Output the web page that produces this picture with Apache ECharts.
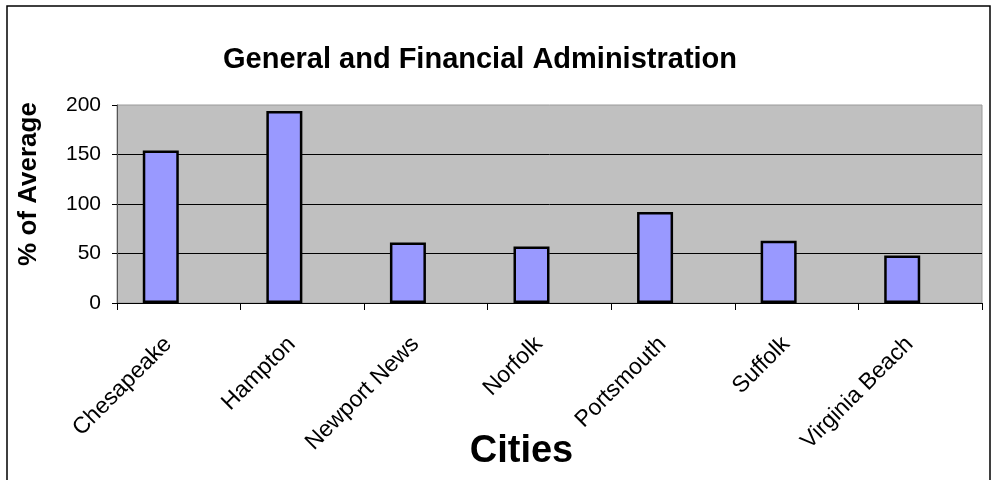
<!DOCTYPE html>
<html>
<head>
<meta charset="utf-8">
<script src="https://cdn.jsdelivr.net/npm/echarts@6/dist/echarts.min.js"></script>
<style>
  html, body { margin: 0; padding: 0; background: #fff; }
  #chart { width: 994px; height: 480px; }
</style>
</head>
<body>
<div id="chart"></div>
<script>
var cities = ['Chesapeake', 'Hampton', 'Newport News', 'Norfolk', 'Portsmouth', 'Suffolk', 'Virginia Beach']
var pctOfAverage = [154, 194, 61, 57, 92, 63, 48]
var yTicks = [0, 50, 100, 150, 200]

var font = '"Liberation Sans", Arial, sans-serif'
var mychart = echarts.init(document.getElementById('chart'))

var option = {
  animation: false,
  backgroundColor: '#fff',
  title: {
    text: 'General and Financial Administration',
    left: 475,
    top: 40,
    textAlign: 'center',
    textStyle: { fontFamily: font, fontSize: 29, fontWeight: 'bold', color: '#000' }
  },
  graphic: [
    {
      type: 'rect',
      shape: { x: 7, y: 6, width: 983, height: 490 },
      style: { fill: 'none', stroke: '#000', lineWidth: 1.5 },
      silent: true
    }
  ],
  grid: {
    left: 117,
    right: 12,
    top: 105,
    bottom: 177,
    outerBoundsMode: 'none',
    containLabel: false,
    show: true,
    backgroundColor: '#c0c0c0',
    borderColor: '#9a9a9a',
    borderWidth: 1
  },
  xAxis: {
    type: 'category',
    data: cities,
    name: 'Cities',
    nameLocation: 'middle',
    nameGap: 130,
    nameMoveOverlap: false,
    nameTextStyle: {
      fontFamily: font,
      fontSize: 38,
      fontWeight: 'bold',
      color: '#000',
      padding: [0, 56, 0, 0]
    },
    axisLine: { lineStyle: { color: '#000', width: 1 } },
    axisTick: { show: true, length: 7, lineStyle: { color: '#000' } },
    axisLabel: {
      rotate: 45,
      margin: 27,
      padding: [0, 15, 0, 0],
      interval: 0,
      fontFamily: font,
      fontSize: 23,
      color: '#000'
    }
  },
  yAxis: {
    type: 'value',
    min: yTicks[0],
    max: yTicks[yTicks.length - 1],
    interval: 50,
    name: '% of Average',
    nameLocation: 'middle',
    nameGap: 75,
    nameMoveOverlap: false,
    nameTextStyle: {
      fontFamily: font,
      fontSize: 26,
      fontWeight: 'bold',
      color: '#000',
      padding: [0, 0, 0, 40]
    },
    axisLine: { show: true, lineStyle: { color: '#555', width: 1 } },
    axisTick: { show: true, length: 5, lineStyle: { color: '#000' } },
    axisLabel: { margin: 16, fontFamily: font, fontSize: 21, color: '#000' },
    splitLine: { show: true, showMaxLine: false, lineStyle: { color: '#000', width: 1 } }
  },
  series: [
    {
      type: 'bar',
      data: pctOfAverage,
      barWidth: 36,
      barGap: '0%',
      itemStyle: { color: '#9999ff', borderColor: '#000', borderWidth: 2.5 }
    },
    {
      // empty second series, as in the original sheet: keeps the bars left of centre
      type: 'bar',
      data: [],
      barWidth: 36,
      barGap: '0%'
    }
  ]
}

mychart.setOption(option)
</script>
</body>
</html>
